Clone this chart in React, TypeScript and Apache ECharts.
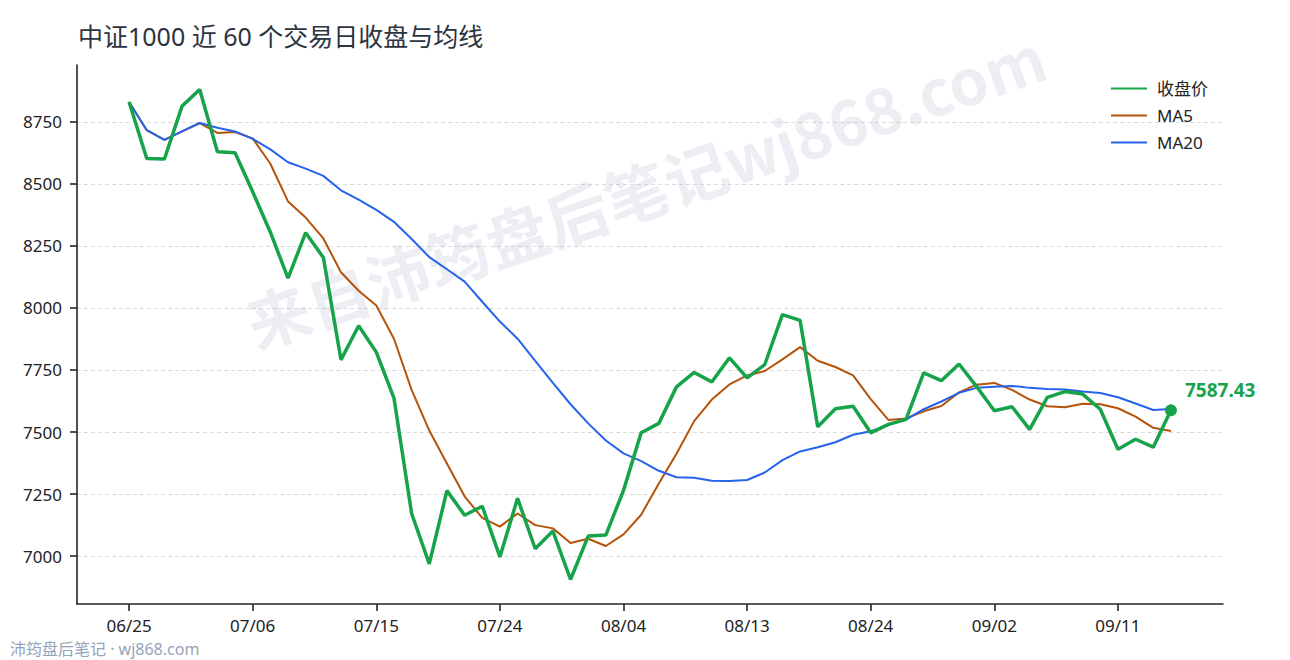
import React, { useEffect, useRef } from 'react';
import * as echarts from 'echarts';

// 60 个交易日
const dates = [
  '06/25', '06/26', '06/27', '06/30', '07/01', '07/02', '07/03', '07/06', '07/07', '07/08',
  '07/09', '07/10', '07/11', '07/14', '07/15', '07/16', '07/17', '07/18', '07/21', '07/22',
  '07/23', '07/24', '07/25', '07/28', '07/29', '07/30', '07/31', '08/01', '08/04', '08/05',
  '08/06', '08/07', '08/08', '08/11', '08/12', '08/13', '08/14', '08/15', '08/18', '08/19',
  '08/20', '08/21', '08/24', '08/25', '08/26', '08/27', '08/28', '08/29', '09/01', '09/02',
  '09/03', '09/04', '09/05', '09/08', '09/09', '09/10', '09/11', '09/12', '09/15', '09/16',
];

const close = [
  8830, 8602, 8600, 8813, 8880, 8629, 8625, 8468, 8305, 8120,
  8303, 8203, 7791, 7928, 7822, 7637, 7172, 6969, 7264, 7165,
  7201, 6997, 7233, 7030, 7101, 6906, 7081, 7085, 7265, 7497,
  7535, 7682, 7740, 7702, 7799, 7718, 7772, 7973, 7950, 7521,
  7594, 7604, 7497, 7531, 7551, 7738, 7707, 7774, 7683, 7586,
  7602, 7511, 7640, 7663, 7653, 7592, 7431, 7471, 7439, 7587.43,
];

const ma5 = [
  8830, 8716, 8677, 8711, 8745, 8705, 8709, 8683, 8581, 8429,
  8364, 8280, 8144, 8069, 8010, 7876, 7670, 7506, 7373, 7241,
  7154, 7119, 7172, 7125, 7112, 7053, 7070, 7041, 7088, 7167,
  7293, 7413, 7544, 7631, 7692, 7728, 7746, 7793, 7842, 7787,
  7762, 7728, 7633, 7549, 7555, 7584, 7605, 7660, 7691, 7698,
  7670, 7631, 7604, 7600, 7614, 7612, 7596, 7562, 7517, 7504,
];

const ma20 = [
  8830, 8716, 8677, 8711, 8745, 8726, 8711, 8681, 8639, 8587,
  8561, 8532, 8474, 8436, 8395, 8347, 8278, 8205, 8156, 8106,
  8025, 7945, 7876, 7787, 7698, 7612, 7535, 7466, 7414, 7383,
  7344, 7318, 7316, 7304, 7303, 7307, 7337, 7387, 7422, 7439,
  7459, 7489, 7503, 7528, 7550, 7592, 7623, 7658, 7678, 7683,
  7686, 7678, 7673, 7671, 7663, 7657, 7640, 7615, 7589, 7593,
];

const xTicks = [0, 7, 14, 21, 28, 35, 42, 49, 56];
const yTicks = [7000, 7250, 7500, 7750, 8000, 8250, 8500, 8750];

// 轴范围（两端各留 5% 边距）
const X_MIN = -2.95;
const X_MAX = 61.95;
const Y_MIN = 6807.3;
const Y_MAX = 8978.7;

const TITLE = '中证1000 近 60 个交易日收盘与均线';
const WATERMARK = '来自沛筠盘后笔记wj868.com';
const FOOTER = '沛筠盘后笔记 · wj868.com';

const FONT = "'Noto Sans', 'Noto Sans CJK SC', sans-serif";
const GREEN = '#16a34a';
const ORANGE = '#b45309';
const BLUE = '#2563eb';
const AXIS = '#262626';

const toPoints = (arr: number[]) => arr.map((v, i) => [i, v]);

const App = () => {
  const chartRef = useRef<HTMLDivElement>(null);

  useEffect(() => {
    const chart = echarts.init(chartRef.current, null, { renderer: 'svg' });
    const last = close.length - 1;

    chart.setOption({
      animation: false,
      backgroundColor: '#fff',
      textStyle: { fontFamily: FONT },
      title: {
        text: TITLE,
        left: 78,
        top: 23,
        padding: 0,
        textStyle: { fontSize: 25, fontWeight: 'normal', color: '#2d3440', fontFamily: FONT },
      },
      legend: {
        data: ['收盘价', 'MA5', 'MA20'],
        orient: 'vertical',
        left: 1110,
        top: 80,
        padding: 0,
        itemWidth: 36,
        itemHeight: 14,
        itemGap: 10,
        itemStyle: { opacity: 0 },
        textStyle: { fontSize: 17, lineHeight: 17, color: '#222', fontFamily: FONT, padding: [0, 0, 0, 5] },
      },
      grid: { left: 77, right: 67, top: 65, bottom: 56 },
      xAxis: {
        type: 'value',
        min: X_MIN,
        max: X_MAX,
        axisLine: { show: true, onZero: false, lineStyle: { color: AXIS, width: 1.6 } },
        axisTick: { show: true, length: 7, lineStyle: { color: AXIS, width: 1.6 }, customValues: xTicks },
        axisLabel: {
          customValues: xTicks,
          formatter: (v: number) => dates[Math.round(v)] ?? '',
          fontSize: 17,
          lineHeight: 17,
          color: '#222',
          margin: 13,
          fontFamily: FONT,
        },
        splitLine: { show: false },
      },
      yAxis: {
        type: 'value',
        min: Y_MIN,
        max: Y_MAX,
        axisLine: { show: true, onZero: false, lineStyle: { color: AXIS, width: 1.6 } },
        axisTick: { show: true, length: 7, lineStyle: { color: AXIS, width: 1.6 }, customValues: yTicks },
        axisLabel: {
          customValues: yTicks,
          formatter: (v: number) => String(v),
          fontSize: 17,
          color: '#222',
          margin: 15,
          fontFamily: FONT,
        },
        splitLine: { show: true, lineStyle: { color: '#dcdcdc', type: [4, 3], width: 1 } },
      },
      series: [
        {
          name: '收盘价',
          type: 'line',
          data: toPoints(close),
          symbol: 'none',
          z: 4,
          lineStyle: { color: GREEN, width: 3.5 },
          itemStyle: { color: GREEN },
          markPoint: {
            symbol: 'circle',
            symbolSize: 12,
            itemStyle: { color: GREEN },
            data: [{ coord: [last, close[last]], value: close[last] }],
            label: {
              show: true,
              position: 'right',
              offset: [3, -20],
              formatter: () => close[last].toFixed(2),
              color: GREEN,
              fontSize: 19,
              fontWeight: 'bold',
              fontFamily: FONT,
            },
          },
        },
        {
          name: 'MA5',
          type: 'line',
          data: toPoints(ma5),
          symbol: 'none',
          z: 3,
          lineStyle: { color: ORANGE, width: 2 },
          itemStyle: { color: ORANGE },
        },
        {
          name: 'MA20',
          type: 'line',
          data: toPoints(ma20),
          symbol: 'none',
          z: 3,
          lineStyle: { color: BLUE, width: 2 },
          itemStyle: { color: BLUE },
        },
      ],
      graphic: [
        {
          type: 'text',
          x: 645,
          y: 188,
          rotation: 0.33,
          z: 1,
          silent: true,
          style: {
            text: WATERMARK,
            fill: 'rgba(148,160,190,0.18)',
            fontSize: 63,
            fontWeight: 'bold',
            fontFamily: "'Noto Sans CJK SC', 'Noto Sans', sans-serif",
            align: 'center',
            verticalAlign: 'middle',
            textAlign: 'center',
            textVerticalAlign: 'middle',
          },
        },
        {
          type: 'text',
          x: 10,
          y: 649,
          style: {
            text: FOOTER,
            fill: '#94a3b8',
            fontSize: 16,
            lineHeight: 16,
            fontFamily: FONT,
            verticalAlign: 'middle',
            textVerticalAlign: 'middle',
          },
        },
      ],
    });

    return () => {
      chart.dispose();
    };
  }, []);

  return (
    <div
      ref={chartRef}
      style={{ position: 'absolute', left: 0, top: 0, width: '1290px', height: '660px', backgroundColor: 'white' }}
    />
  );
};

export default App;
